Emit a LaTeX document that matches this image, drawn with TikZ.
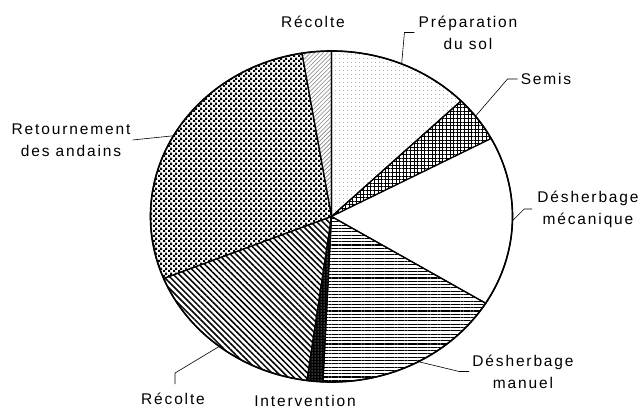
\documentclass[tikz,border=0pt]{standalone}
\usepackage{fontspec}
\setmainfont{Liberation Sans}[LetterSpace=12]
\usetikzlibrary{patterns,patterns.meta}

\tikzdeclarepattern{
  name=checks,
  type=uncolored,
  bounding box={(0pt,0pt) and (4.6pt,4.6pt)},
  tile size={(4.6pt,4.6pt)},
  code={
    \fill (0pt,0pt) rectangle (2.3pt,2.3pt);
    \fill (2.3pt,2.3pt) rectangle (4.6pt,4.6pt);
  }
}

\begin{document}
\begin{tikzpicture}[
  x=1pt, y=1pt,
  labelstyle/.style={
        align=center,
        inner sep=0pt,
        font=\fontsize{15.5}{22}\selectfont
  },
  leaderstyle/.style={
        draw,
        line width=0.6pt
  },
  slicestyle/.style={
        draw,
        line width=1.2pt,
        line join=round
  },
  prepfill/.style={pattern={Dots[distance=4pt,radius=0.5pt]}, pattern color=gray},
  semisfill/.style={pattern={Hatch[distance=3.6pt,line width=0.7pt]}},
  mecafill/.style={fill=white},
  manuelfill/.style={pattern={Lines[angle=0,distance=3.3pt,line width=1.1pt]}},
  intervfill/.style={preaction={fill=black}, pattern={Dots[distance=3pt,radius=0.5pt]}, pattern color=white},
  recoltefill/.style={pattern={Lines[angle=-45,distance=4.2pt,line width=1.5pt]}},
  retourfill/.style={pattern=checks},
  recoltetopfill/.style={pattern={Lines[angle=45,distance=3pt,line width=0.6pt]}, pattern color=gray}
]

    \useasboundingbox (0,0) rectangle (643,410);

    \coordinate (C) at (331.5,193.5);

    % slices
    \foreach \a/\b/\look in {90/44.3/prepfill, 44.3/28.1/semisfill, 28.1/-31.6/mecafill,
        -31.6/-92.7/manuelfill, -92.7/-97.8/intervfill, -97.8/-158/recoltefill,
        -158/-260.6/retourfill, -260.6/-270/recoltetopfill}
      \draw[slicestyle, \look] (C) -- ++(\a:181 and 165.5)
        arc[start angle=\a, end angle=\b, x radius=181, y radius=165.5] -- cycle;

    \draw[line width=1.6pt] (C) ellipse[x radius=181, y radius=165.5];

    % labels
    \node[labelstyle] (RecolteTop) at (313,388) {Récolte};
    \node[labelstyle] (Prep) at (468,377.5) {Préparation\\du sol};
    \node[labelstyle] (Semis) at (546,331) {Semis};
    \node[labelstyle] (Meca) at (588,201) {Désherbage\\mécanique};
    \node[labelstyle] (Manuel) at (523,38.5) {Désherbage\\manuel};
    \node[labelstyle] (Interv) at (305,9) {Intervention};
    \node[labelstyle] (RecolteBot) at (173,11) {Récolte};
    \node[labelstyle] (Retour) at (71,270) {Retournement\\des andains};

    % leader lines
    \path (C) ++(67.2:181 and 165.5) coordinate (PrepA);
    \path (C) ++(37.3:181 and 165.5) coordinate (SemisA);
    \path (C) ++(-1.5:181 and 165.5) coordinate (MecaA);
    \path (C) ++(-61.3:181 and 165.5) coordinate (ManuelA);
    \path (C) ++(-128.3:181 and 165.5) coordinate (RecolteBotA);
    \path (C) ++(150.8:181 and 165.5) coordinate (RetourA);

    \draw[leaderstyle] (PrepA) -- ([xshift=-14pt]Prep.west) -- ([xshift=-4pt]Prep.west);
    \draw[leaderstyle] (SemisA) -- ([xshift=-13pt]Semis.west) -- ([xshift=-3pt]Semis.west);
    \draw[leaderstyle] (MecaA) -- ([xshift=-13pt]Meca.west) -- ([xshift=-5pt]Meca.west);
    \draw[leaderstyle] (ManuelA) -- ([xshift=-13pt]Manuel.west) -- ([xshift=-3pt]Manuel.west);
    \draw[leaderstyle] (RecolteBotA) -- ([xshift=2pt,yshift=20pt]RecolteBot.north) -- ([xshift=2pt,yshift=9pt]RecolteBot.north);
    \draw[leaderstyle] (RetourA) -- ([xshift=2pt]Retour.east);
\end{tikzpicture}
\end{document}
